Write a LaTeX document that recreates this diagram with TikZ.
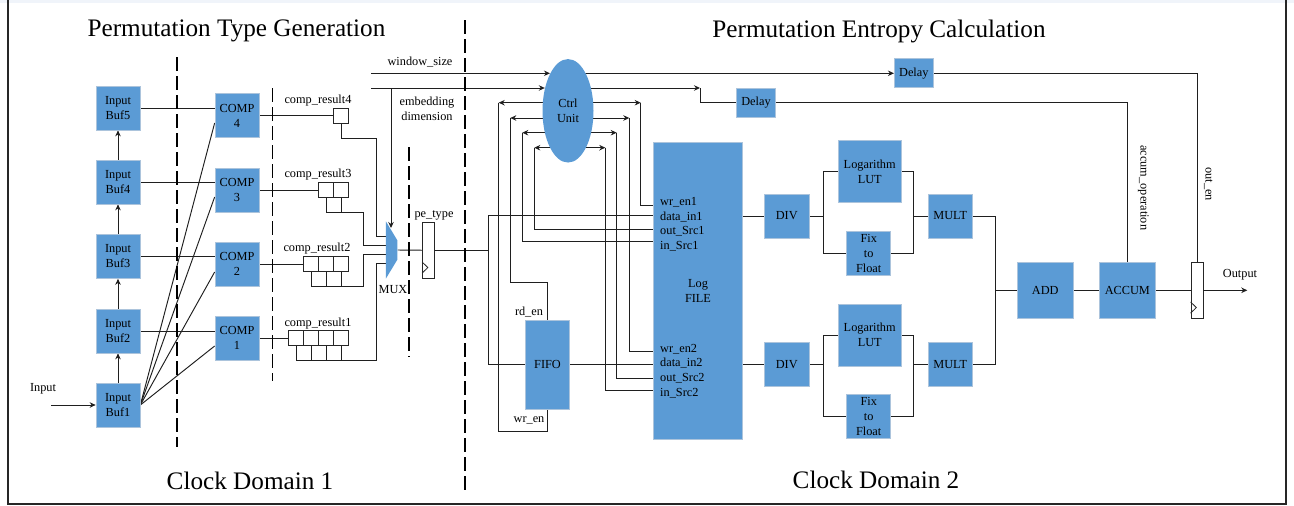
\documentclass[tikz,border=0pt]{standalone}
\usepackage{fontspec}
\setmainfont{Liberation Serif}
\definecolor{peblue}{RGB}{91, 155, 213}
\definecolor{peedge}{RGB}{172, 196, 220}
\definecolor{petop}{RGB}{240, 244, 250}
\usetikzlibrary{arrows.meta, positioning, shapes.geometric, backgrounds, calc}
\tikzset{
  block/.style={fill=peblue, draw=peedge, line width=0.7pt, inner sep=0pt, align=center,
    font=\fontsize{12.3}{15}\selectfont},
  cell/.style={draw=black!85, fill=white, line width=0.9pt, minimum size=15pt, inner sep=0pt},
  regbar/.style={draw=black!85, fill=white, line width=0.9pt, minimum width=12pt, minimum height=56pt, inner sep=0pt},
  lab/.style={inner sep=0pt, align=center, font=\fontsize{12.3}{15}\selectfont},
  head/.style={inner sep=0pt, font=\fontsize{25.2}{30}\selectfont},
  wire/.style={draw=black!88, line width=0.95pt},
  sig/.style={wire, -{Stealth[length=6pt,width=5.5pt]}},
  clockline/.style={draw=black, line width=1.8pt, dash pattern=on 14pt off 5pt}
}
\begin{document}
\begin{tikzpicture}[x=1pt, y=-1pt]
    \useasboundingbox (0,0) rectangle (1294,506);
    \fill[petop] (0,0) rectangle (1294,3);
    \draw[black!85, line width=1.5pt] (8,0) -- (8,504) -- (1286,504) -- (1286,0);
    % titles
    \node[head] (titleA) at (236.5,31) {Permutation Type Generation};
    \node[head] (titleB) at (879,31) {Permutation Entropy Calculation};
    \node[head] (clockA) at (250,481) {Clock Domain 1};
    \node[head] (clockB) at (876,480) {Clock Domain 2};
    % input buffers
    \foreach \i/\y in {1/405,2/331,3/256.5,4/182,5/108} {
      \node[block, minimum width=44pt, minimum height=44pt] (buf\i) at (118,\y) {Input\\Buf\i};
    }
    % comparators
    \foreach \i/\y in {1/338,2/264,3/190,4/115.5} {
      \node[block, minimum width=44pt, minimum height=44pt] (comp\i) at (237,\y) {COMP\\\i};
    }
    % result registers
    \foreach \n/\c/\y in {1/4/338,2/3/264,3/2/190,4/1/115.5} \foreach \k in {1,...,\c} {
      \node[cell] (res\n\k) at ({356-15*\k},\y) {};
    }
    \node[lab] (resA) at (318,323.5) {comp\_result1};
    \node[lab] (resB) at (317,248.5) {comp\_result2};
    \node[lab] (resC) at (318,174.5) {comp\_result3};
    \node[lab] (resD) at (318,100.5) {comp\_result4};
    \node[lab] (inlab) at (43,389) {Input};
    % mux and pe_type
    \node[trapezium, trapezium stretches=true, trapezium angle=45, rotate=-90, fill=peblue,
      inner sep=0.5pt, minimum width=57pt, minimum height=11.5pt] (mux) at (391.7,250) {};
    \node[lab] (muxlab) at (393,290) {MUX};
    \node[regbar] (pereg) at (428.5,250.3) {};
    \node[lab] (pelab) at (434,215) {pe\_type};
    % control
    \node[ellipse, fill=peblue, inner sep=0pt, minimum width=51pt, minimum height=103.5pt,
      align=center, font=\fontsize{12.3}{15}\selectfont] (ctrl) at (568,110.8) {Ctrl\\Unit};
    \node[lab] (winlab) at (420,62) {window\_size};
    \node[lab] (emblab) at (427,108.5) {embedding\\dimension};
    \node[block, minimum width=39pt, minimum height=29pt] (delayA) at (913.8,73.3) {Delay};
    \node[block, minimum width=39pt, minimum height=29pt] (delayB) at (756,102.8) {Delay};
    % fifo and log file
    \node[block, minimum width=43.5pt, minimum height=88.5pt] (fifo) at (547.5,364.8) {FIFO};
    \node[lab] (rdlab) at (529,312) {rd\_en};
    \node[lab] (wrlab) at (529,420) {wr\_en};
    \node[block, minimum width=89pt, minimum height=296.5pt] (logfile) at (698,290.7) {Log\\FILE};
    \foreach \t/\y in {wr\_en1/202,data\_in1/217,out\_Src1/231,in\_Src1/246,wr\_en2/349,data\_in2/363,out\_Src2/378,in\_Src2/393} {
      \node[lab, right] at (660,\y) {\t};
    }
    % two datapaths
    \foreach \r/\y/\l/\f in {A/216/171.4/253.1,B/364.8/335/416.7} {
      \node[block, minimum width=44.5pt, minimum height=44pt] (div\r) at (786.7,\y) {DIV};
      \node[block, minimum width=62.5pt, minimum height=62pt] (lut\r) at (869.7,\l) {Logarithm\\LUT};
      \node[block, minimum width=44pt, minimum height=44pt] (fix\r) at (868.7,\f) {Fix\\to\\Float};
      \node[block, minimum width=44.3pt, minimum height=44pt] (mult\r) at (950.2,\y) {MULT};
    }
    \node[block, minimum width=56pt, minimum height=56pt] (add) at (1045.3,290.3) {ADD};
    \node[block, minimum width=56pt, minimum height=56pt] (accum) at (1127.3,290.3) {ACCUM};
    \node[regbar] (outreg) at (1197,290.3) {};
    \node[lab] (outlab) at (1240,275) {Output};
    \node[lab, rotate=-90] (acclab) at (1143.3,187.8) {accum\_operation};
    \node[lab, rotate=-90] (enlab) at (1208.3,184.3) {out\_en};
    % clock marks
    \foreach \r in {pereg,outreg} {
      \draw[black!85, line width=0.8pt] (\r.south west) ++(0,-16.8) -- ++(5.8,5.6) -- ++(-5.8,5.6);
    }
    % free ends and corners
    \coordinate (winL) at (371,73.3);
    \coordinate (embL) at (371,88);
    \coordinate (embR) at (700,88);
    \coordinate (muxtop) at (391,228);
    \coordinate (inL) at (51,405);
    \coordinate (pesplit) at (488,250.3);
    \coordinate (dataA) at (653,215.7);
    \coordinate (sumA) at (995,216);
    \coordinate (sumB) at (995,364.8);
    \coordinate (outR) at (1247.3,290.3);
    \coordinate (fifoT) at (510.3,282.7);
    \coordinate (fifoB) at (498.7,431.3);
    \foreach \i/\xl/\xr/\y in {1/498.7/640.7/102.7,2/510.3/629.3/118,3/522.3/616.7/132.7,4/534.3/605.3/147.7} {
      \coordinate (cl\i) at (\xl,\y);
      \coordinate (cr\i) at (\xr,\y);
    }
    \foreach \n/\y in {1/263.3,2/254.3,3/245.7,4/236.7} {
      \coordinate (mi\n) at (386,\y);
    }
    \draw[sig] (inL) -- (buf1);
    \draw[sig] (embL -| muxtop) -- (muxtop);
    \draw[sig] (winL) -- (winL -| ctrl.116);
    \draw[sig] (embL) -- (embL -| ctrl.136);
    \draw[sig] (outreg.east) -- (outR);
    % wires
    \begin{scope}[on background layer]
    \draw[sig] (ctrl |- delayA) -- (delayA);
    \foreach \i in {1,2,3,4} {
      \pgfmathtruncatemacro{\j}{\i+1}
      \draw[sig] (buf\i) -- (buf\j);
    }
    \foreach \i in {2,3,4,5} {
      \pgfmathtruncatemacro{\j}{\i-1}
      \draw[wire] (buf\i) -- (comp\j.west |- buf\i);
    }
    \foreach \i/\c/\y in {1/4/346,2/3/272,3/2/197,4/1/123} {
      \draw[wire] (buf1.east) -- (comp\i.west |- 0,\y);
      \draw[wire] (comp\i) -- (res\i\c);
    }
    \foreach \n/\c in {1/4,2/3,3/2,4/1} \foreach \k in {1,...,\c} {
      \draw[wire] (res\n\k.south) -- ++(0,15);
    }
    \foreach \n/\c/\dx in {1/4/80.7,2/3/52,3/2/37,4/1/35.7} {
      \draw[wire] (res\n\c.south) -- ++(0,15) -- ++(\dx,0) |- (mi\n);
    }
    \draw[wire] (mux.north) -- (pereg);
    \draw[wire] (pereg) -- (pesplit);
    \draw[wire] (pesplit) |- (dataA);
    \draw[wire] (pesplit) |- (fifo);
    \draw[wire] (fifo) -- (logfile.west |- fifo);
    \foreach \i in {1,2,3,4} {
      \draw[sig] (ctrl |- cl\i) -- (cl\i);
      \draw[sig] (ctrl |- cr\i) -- (cr\i);
    }
    \draw[wire] (cl1) |- (fifoB) -| (fifo.south);
    \draw[wire] (cl2) |- (fifoT) -| (fifo.north);
    \draw[wire] (cl3) |- (logfile.west |- 0,241.3);
    \draw[wire] (cl4) |- (logfile.west |- 0,229.3);
    \draw[wire] (cr1) |- (logfile.west |- 0,205.3);
    \draw[wire] (cr2) |- (logfile.west |- 0,351);
    \draw[wire] (cr3) |- (logfile.west |- 0,378);
    \draw[wire] (cr4) |- (logfile.west |- 0,390);
    \draw[sig] (ctrl |- embR) -- (embR);
    \draw[wire] (embR) |- (delayB);
    \draw[wire] (delayB) -| (accum.north);
    \draw[wire] (delayA) -| (outreg.north);
    \draw[wire] (dataA) -- (logfile.west |- dataA);
    \foreach \r in {A,B} {
      \draw[wire] (logfile.east |- div\r) -- (div\r);
      \draw[wire] (div\r) -- ++(37,0) |- (lut\r);
      \draw[wire] (div\r) -- ++(37,0) |- (fix\r);
      \draw[wire] (mult\r) -- ++(-36.9,0) |- (lut\r);
      \draw[wire] (mult\r) -- ++(-36.9,0) |- (fix\r);
    }
    \draw[wire] (multA) -| (sumA |- add) -- (add);
    \draw[wire] (multB) -| (sumB |- add) -- (add);
    \draw[wire] (add) -- (accum);
    \draw[wire] (accum) -- (outreg);
    \end{scope}
    % clock domain borders
    \draw[clockline] (177,57) -- (177,447);
    \draw[clockline] (272.5,88) -- (272.5,381);
    \draw[clockline] (409,147) -- (409,357);
    \draw[clockline] (465,20) -- (465,490);
  \end{tikzpicture}
\end{document}
